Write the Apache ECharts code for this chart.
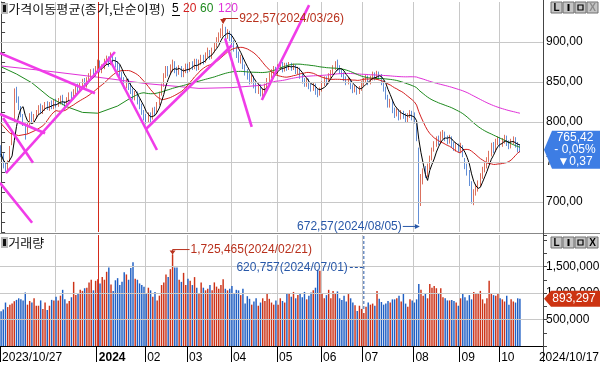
<!DOCTYPE html>
<html><head><meta charset="utf-8">
<script src="https://cdn.jsdelivr.net/npm/echarts@6/dist/echarts.min.js"></script>
<style>html,body{margin:0;padding:0;background:#fff}#c{width:600px;height:366px}</style>
</head><body><div id="c"></div>
<script>
// ---------------- DATA ----------------
const monthDays = [
 ['2023/10', [27,30,31]],
 ['2023/11', [1,2,3,6,7,8,9,10,13,14,15,16,17,20,21,22,23,24,27,28,29,30]],
 ['2023/12', [1,4,5,6,7,8,11,12,13,14,15,18,19,20,21,22,26,27,28]],
 ['2024/01', [2,3,4,5,8,9,10,11,12,15,16,17,18,19,22,23,24,25,26,29,30,31]],
 ['2024/02', [1,2,5,6,7,8,13,14,15,16,19,20,21,22,23,26,27,28,29]],
 ['2024/03', [4,5,6,7,8,11,12,13,14,15,18,19,20,21,22,25,26,27,28,29]],
 ['2024/04', [1,2,3,4,5,8,9,11,12,15,16,17,18,19,22,23,24,25,26,29,30]],
 ['2024/05', [2,3,7,8,9,10,13,14,16,17,20,21,22,23,24,27,28,29,30,31]],
 ['2024/06', [3,4,5,7,10,11,12,13,14,17,18,19,20,21,24,25,26,27,28]],
 ['2024/07', [1,2,3,4,5,8,9,10,11,12,15,16,17,18,19,22,23,24,25,26,29,30,31]],
 ['2024/08', [1,2,5,6,7,8,9,12,13,14,16,19,20,21,22,23,26,27,28,29,30]],
 ['2024/09', [2,3,4,5,6,9,10,11,12,13,19,20,23,24,25,26,27,30]],
 ['2024/10', [2,4,7,8,10,11,14,15,16,17]]
];
// [open, close, low, high]
const ohlc = [
 // 2023/10
 [768,760,756,771],[758,745,742,761],[746,742,737,750],
 // 2023/11
 [741,748,739,752],[752,768,750,770],[774,785,771,790],[806,840,800,842],[838,830,824,844],[828,818,815,832],[816,810,806,820],[806,798,795,810],[795,786,778,798],[788,795,785,800],
 [798,808,796,811],[810,803,800,813],[802,806,799,810],[806,812,804,815],[812,818,809,821],[820,814,811,823],[813,818,810,821],[817,822,814,825],[823,818,815,826],[817,822,814,825],
 [824,820,816,827],[819,825,816,828],
 // 2023/12
 [826,822,818,829],[823,826,819,830],[825,830,822,833],[831,824,821,834],[823,820,815,826],[821,828,818,831],[829,833,826,837],[835,830,826,838],[831,838,828,841],[838,843,835,847],
 [845,840,836,848],[840,846,837,849],[846,850,843,854],[852,845,841,855],[846,852,843,856],[852,858,849,861],[858,862,855,866],[863,860,855,867],[860,867,857,870],
 // 2024/01
 [868,873,862,878],[872,866,862,877],[866,868,861,872],[868,875,866,879],[874,878,871,883],[879,874,869,882],[874,880,871,887],[881,878,872,885],[878,872,868,881],[873,870,864,876],
 [869,860,857,872],[860,852,848,863],[853,846,842,856],[845,850,842,854],[851,845,840,854],[846,838,835,849],[838,832,828,842],[831,835,827,839],[836,826,822,838],[826,820,816,829],
 [820,812,809,823],[812,806,802,815],
 // 2024/02
 [806,802,798,810],[801,808,799,812],[809,804,800,812],[805,815,803,818],[815,812,808,819],[812,822,810,825],[823,835,821,838],[836,845,833,848],[846,858,844,861],[858,866,855,870],
 [867,862,857,870],[862,868,859,872],[868,872,863,878],[873,865,861,876],[866,862,857,869],[862,868,859,871],[868,860,856,870],[860,864,856,867],[864,870,861,873],
 // 2024/03
 [870,866,861,873],[866,872,863,875],[873,870,865,876],[870,876,866,879],[877,868,864,879],[868,874,865,878],[874,880,871,884],[881,876,872,884],[877,884,874,887],[884,888,881,893],
 [888,882,878,890],[882,890,879,893],[890,896,887,899],[896,902,893,906],[903,908,899,912],[908,912,905,917],[912,915,907,922.57],[915,908,904,919],[908,912,904,916],[912,905,901,914],
 // 2024/04
 [906,900,896,910],[899,892,888,902],[892,885,880,895],[885,878,874,888],[877,880,873,884],[880,870,866,882],[869,862,858,872],[862,858,853,866],[858,852,847,861],[851,856,848,860],
 [856,846,842,858],[846,840,836,849],[839,844,835,848],[844,836,832,847],[834,838,831,842],[838,845,836,848],[846,852,843,855],[852,858,850,862],[858,862,855,866],[862,866,859,870],
 [867,862,858,869],
 // 2024/05
 [862,868,859,872],[868,872,865,876],[873,866,862,875],[866,870,863,874],[871,868,864,874],[868,872,865,875],[872,868,864,874],[868,870,865,873],[870,864,860,872],[863,866,860,869],
 [866,858,854,868],[858,852,848,860],[852,848,844,855],[847,852,844,855],[852,845,841,854],[845,842,838,848],[842,846,839,849],[846,838,834,848],[838,836,831,841],[836,840,833,843],
 // 2024/06
 [841,848,838,851],[848,854,845,857],[855,850,846,857],[850,858,848,861],[858,862,855,865],[862,868,859,871],[868,872,865,876],[873,868,864,878],[868,864,860,871],[864,860,856,866],
 [860,855,851,862],[855,850,846,857],[850,852,847,856],[852,845,841,854],[845,840,836,847],[840,842,837,846],[843,838,834,845],[838,842,835,845],[842,848,839,851],
 // 2024/07
 [848,852,845,855],[852,856,849,859],[857,850,846,858],[850,855,847,858],[855,860,852,863],[860,856,852,862],[856,860,853,864],[860,858,853,863],[858,850,846,860],[850,842,838,852],
 [842,832,828,844],[832,822,818,834],[821,826,818,829],[826,815,811,828],[815,810,805,818],[810,814,807,817],[814,806,802,816],[806,812,803,815],[812,808,804,814],[808,803,799,811],
 [803,808,800,811],[808,812,805,815],[812,806,802,814],
 // 2024/08
 [808,802,798,812],[796,780,776,798],[765,692,672.57,768],[705,728,695,735],[726,738,722,742],[740,735,730,745],[735,742,731,748],[744,755,741,758],[756,765,752,768],[766,772,763,776],
 [772,778,769,782],[779,775,771,783],[776,782,773,788],[782,785,779,790],[786,780,776,788],[780,777,772,783],[776,780,773,784],[780,772,768,782],[772,768,764,775],[767,770,763,774],
 [770,766,762,773],
 // 2024/09
 [766,770,762,774],[768,760,756,771],[752,745,741,755],[745,738,733,748],[737,725,720,740],[724,708,698,726],[705,712,696,716],[713,718,708,722],[718,722,713,727],[724,732,720,736],
 [733,740,729,744],[741,745,737,750],[746,752,742,756],[752,760,749,764],[760,770,757,774],[771,765,761,775],[766,775,763,779],[775,778,771,782],
 // 2024/10
 [778,772,768,781],[772,776,769,780],[776,780,773,784],[781,774,770,783],[774,770,766,777],[770,776,767,779],[776,778,772,782],[778,772,768,781],[772,765.79,762,775],[768,765.42,762,771]
];
const volumes = [
 654000,690000,820000,
 735000,780000,800000,845000,870000,900000,880000,860000,1010000,780000,850000,820000,900000,760000,760000,860000,700000,820000,680000,760000,870000,860000,
 930000,860000,950000,1060000,880000,800000,850000,920000,1210000,960000,1000000,1060000,1040000,1090000,1100000,1200000,1250000,1050000,1230000,
 1260000,1180000,1300000,1250000,1400000,1480000,1160000,1040000,1240000,1280000,1150000,1210000,1390000,1350000,1250000,1470000,1580000,1270000,1250000,1180000,1150000,1120000,
 1000000,1100000,1050000,930000,1020000,860000,950000,1150000,1200000,1350000,1300000,1450000,1725465,1480000,1480000,1250000,1210000,1380000,1150000,
 1270000,1230000,1150000,1300000,1100000,1000000,1200000,1100000,1050000,1080000,1150000,1050000,1200000,1120000,1080000,1150000,1260000,1080000,1050000,1080000,
 1130000,1000000,1060000,1050000,960000,1080000,800000,940000,890000,780000,840000,900000,760000,820000,900000,850000,1000000,890000,820000,780000,860000,
 780000,900000,850000,820000,1000000,980000,930000,1020000,900000,960000,1000000,920000,1020000,880000,950000,1010000,1050000,1100000,1440000,1420000,
 980000,900000,960000,1060000,900000,1040000,980000,1030000,900000,870000,950000,840000,980000,900000,820000,770000,660000,760000,700000,
 620757,740000,820000,780000,800000,760000,1040000,890000,830000,780000,800000,850000,820000,880000,880000,900000,950000,840000,1000000,800000,740000,880000,860000,
 820000,880000,1170000,1060000,950000,990000,900000,1170000,1100000,1130000,1090000,1000000,1090000,920000,900000,860000,860000,870000,850000,820000,760000,
 900000,980000,920000,860000,960000,880000,1020000,980000,1000000,1040000,880000,800000,900000,1230000,1000000,960000,950000,1000000,
 900000,880000,840000,950000,780000,880000,840000,820000,900000,893297
];
// moving-average values before the full window is available
const ma20Head  = [[0,798],[4,786],[8,783],[12,785],[16,790]];
const ma60Head  = [[0,869],[7,860],[14,849],[22,831],[30,819],[37,812],[44,811],[53,820]];
const ma120Head = [[0,870],[20,864],[44,856],[66,848],[90,842],[105,843]];
// user-drawn trend lines: [startIndex, startPrice, endIndex, endPrice]
const trendLines = [
 [-0.5,886,42.7,836],[-0.5,810,20,786],[0.9,805,14.5,749],[2.2,736,51.8,887.5],[-0.5,724,14.1,674],
 [49.5,877.5,70.9,765],[65.8,791,105,896],[101.9,904.6,114,794],[118.6,827.5,140.1,946]
];
const priceGrid = [700,750,800,850,900];
const volGrid = [500000,1000000,1500000];

// ---------------- BUILD ----------------
const dates = [], monthStart = {};
monthDays.forEach(([ym, days]) => {
  days.forEach((d, k) => {
    if (k === 0) monthStart[dates.length] = ym;
    dates.push(ym + '/' + String(d).padStart(2,'0'));
  });
});
const N = dates.length;
const PAD = 10;
const cats = dates.concat(Array.from({length: PAD}, (_, k) => 'pad' + k));
const closes = ohlc.map(r => r[1]);

function rolling(n) {
  const out = [];
  for (let i = n - 1; i < N; i++) {
    let s = 0; for (let k = i - n + 1; k <= i; k++) s += closes[k];
    out.push([i, +(s / n).toFixed(2)]);
  }
  return out;
}
const ma5 = [];
for (let i = 0; i < 4; i++) { let s = 0; for (let k = 0; k <= i; k++) s += closes[k]; ma5.push([i, s / (i + 1)]); }
const ma5d = ma5.concat(rolling(5));
const ma20d = ma20Head.concat(rolling(20));
const ma60d = ma60Head.concat(rolling(60));
const ma120d = ma120Head.concat(rolling(120));

const UP = '#cc3318', DN = '#1f5fc4';
const FONT = '"Liberation Sans", Arial, sans-serif';
const KFONT = '"Noto Sans CJK KR", "Noto Sans", sans-serif';

const labelIdx = i => i === 0 || (monthStart[i] && !/2023/.test(monthStart[i]));
const gridIdx = i => monthStart[i] && i !== 0 && monthStart[i] !== '2023/11' && monthStart[i] !== '2024/01';
const janIdx = +Object.keys(monthStart).find(k => monthStart[k] === '2024/01');

const chart = echarts.init(document.getElementById('c'), null, {renderer: 'canvas'});
const GRID_L = 0, GRID_W = 543;

const option = {
  animation: false,
  backgroundColor: '#fff',
  grid: [
    {left: GRID_L, width: GRID_W, top: 2, height: 230, outerBoundsMode: 'none', containLabel: false},
    {left: GRID_L, width: GRID_W, top: 235, height: 111, outerBoundsMode: 'none', containLabel: false}
  ],
  xAxis: [
    {type: 'category', gridIndex: 0, data: cats, boundaryGap: true,
     axisLine: {show: false}, axisTick: {show: false}, axisLabel: {show: false},
     splitLine: {show: true, interval: (i) => !!gridIdx(i), lineStyle: {color: '#c8c8c8', width: 1}}},
    {type: 'category', gridIndex: 1, data: cats, boundaryGap: true,
     axisLine: {show: true, lineStyle: {color: '#000', width: 1}},
     axisTick: {show: true, interval: (i) => !!labelIdx(i), length: 16, lineStyle: {color: '#000'}},
     axisLabel: {show: true, interval: (i) => !!labelIdx(i), align: 'left', margin: 6, padding: [0,0,0,1],
       color: '#000', fontSize: 12, fontFamily: FONT,
       formatter: (v, i) => i === 0 ? v : (monthStart[i] === '2024/01' ? '{b|2024}' : monthStart[i].slice(5)),
       rich: {b: {fontWeight: 'bold', fontSize: 12, fontFamily: FONT, color: '#000'}}},
     splitLine: {show: true, interval: (i) => !!gridIdx(i), lineStyle: {color: '#c8c8c8', width: 1}}},
    {type: 'value', gridIndex: 0, min: -0.5, max: N + PAD - 0.5, show: false}
  ],
  yAxis: [
    {type: 'value', gridIndex: 0, position: 'right', min: 662.5, max: 950, interval: 12.5,
     axisLine: {show: true, lineStyle: {color: '#444'}},
     axisTick: {show: true, length: 4, lineStyle: {color: '#444'}},
     splitLine: {show: false},
     axisLabel: {show: true, margin: 3, color: '#000', fontSize: 12, fontFamily: FONT,
       showMinLabel: true, showMaxLabel: true,
       formatter: v => (Math.abs(v % 50) < 1e-6 && v >= 700 && v <= 900) ? v.toFixed(2).replace('.', ',') : ''}},
    {type: 'value', gridIndex: 1, position: 'right', min: 0, max: 111 / 26.5 * 500000, interval: 250000,
     axisLine: {show: true, lineStyle: {color: '#444'}},
     axisTick: {show: true, length: 4, lineStyle: {color: '#444'}},
     splitLine: {show: false},
     axisLabel: {show: true, margin: 3, color: '#000', fontSize: 12, fontFamily: FONT,
       formatter: v => (volGrid.indexOf(v) >= 0) ? v.toLocaleString('en-US') : ''}}
  ],
  series: [
    {type: 'line', xAxisIndex: 0, yAxisIndex: 0, data: [], z: 0, silent: true,
     markLine: {silent: true, symbol: 'none', label: {show: false}, animation: false,
       lineStyle: {color: '#c8c8c8', type: 'solid', width: 1},
       data: priceGrid.map(v => ({yAxis: v})).concat([{xAxis: dates[janIdx], lineStyle: {color: '#d42a1a', width: 1, type: 'solid'}}])}},
    {type: 'line', xAxisIndex: 1, yAxisIndex: 1, data: [], z: 0, silent: true,
     markLine: {silent: true, symbol: 'none', label: {show: false}, animation: false,
       lineStyle: {color: '#c8c8c8', type: 'solid', width: 1},
       data: volGrid.map(v => ({yAxis: v})).concat([{xAxis: dates[janIdx], lineStyle: {color: '#d42a1a', width: 1, type: 'solid'}}])}},
    {name: 'price', type: 'candlestick', xAxisIndex: 0, yAxisIndex: 0, data: ohlc, barWidth: 1.1, z: 2,
     itemStyle: {color: UP, color0: DN, borderColor: UP, borderColor0: DN, borderWidth: 0.7}},
    {type: 'line', xAxisIndex: 0, yAxisIndex: 0, data: ma120d, showSymbol: false, z: 3, lineStyle: {color: '#e030d8', width: 1}},
    {type: 'line', xAxisIndex: 0, yAxisIndex: 0, data: ma60d, showSymbol: false, z: 3, lineStyle: {color: '#1e8a1e', width: 1}},
    {type: 'line', xAxisIndex: 0, yAxisIndex: 0, data: ma20d, showSymbol: false, z: 3, lineStyle: {color: '#d42020', width: 1}},
    {type: 'line', xAxisIndex: 0, yAxisIndex: 0, data: ma5d, showSymbol: false, z: 4, lineStyle: {color: '#000', width: 1}},
    {name: 'vol', type: 'bar', xAxisIndex: 1, yAxisIndex: 1, barWidth: '66%', z: 2,
     data: volumes.map((v, i) => ({value: v, itemStyle: {color: ohlc[i][1] >= ohlc[i][0] ? UP : DN}}))}
  ].concat(trendLines.map(t => ({
    type: 'line', xAxisIndex: 2, yAxisIndex: 0, data: [[t[0], t[1]], [t[2], t[3]]], showSymbol: false, z: 5,
    clip: true, lineStyle: {color: '#f03ce8', width: 2.6}
  })))
};
chart.setOption(option);

// ---------------- OVERLAYS ----------------
const ctx = document.createElement('canvas').getContext('2d');
function fitScale(text, font, target) { ctx.font = font; const w = ctx.measureText(text).width; return w > 0 ? target / w : 1; }
const px = (i, v) => chart.convertToPixel({xAxisIndex: 0, yAxisIndex: 0}, [i, v]);
const pxv = (i, v) => chart.convertToPixel({xAxisIndex: 1, yAxisIndex: 1}, [i, v]);
const g = [];
const fmt2 = v => v.toFixed(2).replace('.', ',');
const RED_T = '#b8301c', BLUE_T = '#2858a8';

function icon(y) {
  g.push({type: 'rect', shape: {x: 1, y: y, width: 7, height: 11}, style: {fill: '#b8b8b8'}, z: 100});
  g.push({type: 'rect', shape: {x: 3, y: y + 2, width: 3, height: 7}, style: {fill: '#111'}, z: 101});
}
icon(3); icon(237);
const t1 = '가격이동평균(종가,단순이평)';
const f1 = '12px ' + KFONT;
g.push({type: 'text', x: 9, y: 9, scaleX: fitScale(t1, f1, 157), originX: 9, originY: 9, z: 100,
  style: {text: t1, font: f1, fill: '#111', verticalAlign: 'middle'}});
[['5', 172, '#000'], ['20', 183, '#d42020'], ['60', 200, '#1e8a1e'], ['120', 218, '#e030d8']].forEach(([t, x, c]) => {
  g.push({type: 'text', x: x, y: 9, z: 100, style: {text: t, font: '12px ' + FONT, fill: c, verticalAlign: 'middle'}});
});
g.push({type: 'line', shape: {x1: 172, y1: 15.5, x2: 180, y2: 15.5}, style: {stroke: '#000', lineWidth: 1}, z: 100});
const t2 = '거래량';
g.push({type: 'text', x: 9, y: 243, scaleX: fitScale(t2, f1, 36), originX: 9, originY: 243, z: 100,
  style: {text: t2, font: f1, fill: '#111', verticalAlign: 'middle'}});

// panel buttons
function buttons(y, xDim) {
  ['L', 'I', '□', 'X'].forEach((b, k) => {
    const x = 551 + k * 12;
    g.push({type: 'rect', shape: {x: x, y: y, width: 11, height: 11}, style: {fill: '#c4c4c4', stroke: '#707070', lineWidth: 1}, z: 100});
    if (b === '□') {
      g.push({type: 'rect', shape: {x: x + 3, y: y + 3, width: 5, height: 5}, style: {fill: 'none', stroke: '#000', lineWidth: 1.2}, z: 101});
    } else if (b === 'I') {
      g.push({type: 'rect', shape: {x: x + 4.5, y: y + 2, width: 2, height: 7}, style: {fill: '#000'}, z: 101});
    } else {
      g.push({type: 'text', x: x + 5.5, y: y + 6, z: 101, style: {text: b, font: 'bold 10px ' + FONT, fill: (b === 'X' && xDim) ? '#8a8a8a' : '#000', align: 'center', verticalAlign: 'middle'}});
    }
  });
}
buttons(2, true); buttons(237, false);

// separators / axis continuation
g.push({type: 'line', shape: {x1: 0, y1: 233.5, x2: 600, y2: 233.5}, style: {stroke: '#888', lineWidth: 1}, z: 50});
g.push({type: 'line', shape: {x1: 543.5, y1: 0, x2: 543.5, y2: 362}, style: {stroke: '#444', lineWidth: 1}, z: 50});
g.push({type: 'line', shape: {x1: 0, y1: 346.5, x2: 543, y2: 346.5}, style: {stroke: '#000', lineWidth: 1}, z: 50});

// max / min annotations (price)
let hi = 0, lo = 0;
ohlc.forEach((r, i) => { if (r[3] > ohlc[hi][3]) hi = i; if (r[2] < ohlc[lo][2]) lo = i; });
const ph = px(hi, ohlc[hi][3]);
g.push({type: 'polyline', shape: {points: [[ph[0] + 15, 18.5], [ph[0], 18.5], [ph[0], ph[1] - 1]]}, style: {stroke: RED_T, lineWidth: 1, fill: null}, z: 60});
g.push({type: 'polygon', shape: {points: [[ph[0] - 3, ph[1] - 5], [ph[0] + 3, ph[1] - 5], [ph[0], ph[1]]]}, style: {fill: RED_T}, z: 60});
g.push({type: 'text', x: ph[0] + 16, y: 18.5, z: 60, style: {text: fmt2(ohlc[hi][3]) + '(' + dates[hi] + ')', font: '12px ' + FONT, fill: RED_T, verticalAlign: 'middle'}});
const pl = px(lo, ohlc[lo][2]);
const ly = pl[1] + 2.5;
g.push({type: 'line', shape: {x1: pl[0] - 16, y1: ly, x2: pl[0], y2: ly}, style: {stroke: BLUE_T, lineWidth: 1}, z: 60});
g.push({type: 'polygon', shape: {points: [[pl[0] - 4, ly - 2.5], [pl[0] - 4, ly + 2.5], [pl[0] + 1, ly]]}, style: {fill: BLUE_T}, z: 60});
g.push({type: 'text', x: pl[0] - 17, y: ly, z: 60, style: {text: fmt2(ohlc[lo][2]) + '(' + dates[lo] + ')', font: '12px ' + FONT, fill: BLUE_T, align: 'right', verticalAlign: 'middle'}});

// volume annotations
let vmax = 0, vmin = 0;
volumes.forEach((v, i) => { if (v > volumes[vmax]) vmax = i; if (v < volumes[vmin]) vmin = i; });
const vh = pxv(vmax, volumes[vmax]);
const vy = vh[1] - 5;
g.push({type: 'polyline', shape: {points: [[vh[0] + 17, vy], [vh[0], vy], [vh[0], vh[1]]]}, style: {stroke: RED_T, lineWidth: 1, fill: null}, z: 60});
g.push({type: 'polygon', shape: {points: [[vh[0] - 3, vh[1] - 4], [vh[0] + 3, vh[1] - 4], [vh[0], vh[1]]]}, style: {fill: RED_T}, z: 60});
g.push({type: 'text', x: vh[0] + 18, y: vy, z: 60, style: {text: volumes[vmax].toLocaleString('en-US') + '(' + dates[vmax] + ')', font: '12px ' + FONT, fill: RED_T, verticalAlign: 'middle'}});
const vl = pxv(vmin, volumes[vmin]);
g.push({type: 'line', shape: {x1: vl[0], y1: 236, x2: vl[0], y2: vl[1] - 4}, style: {stroke: BLUE_T, lineWidth: 1, lineDash: [3, 2]}, z: 60});
g.push({type: 'line', shape: {x1: vl[0] - 14, y1: 267.5, x2: vl[0], y2: 267.5}, style: {stroke: BLUE_T, lineWidth: 1, lineDash: [3, 2]}, z: 60});
g.push({type: 'text', x: vl[0] - 16, y: 267.5, z: 60, style: {text: volumes[vmin].toLocaleString('en-US') + '(' + dates[vmin] + ')', font: '12px ' + FONT, fill: BLUE_T, align: 'right', verticalAlign: 'middle'}});

// last-value tags
const lastC = closes[N - 1], prevC = closes[N - 2];
const diff = lastC - prevC, pct = diff / prevC * 100;
const pt = px(N - 1, lastC)[1];
g.push({type: 'polygon', shape: {points: [[544, pt], [552, pt - 19], [600, pt - 19], [600, pt + 19], [552, pt + 19]]}, style: {fill: '#3d7de4'}, z: 80});
[[fmt2(lastC), -12], [(pct < 0 ? '- ' : '+ ') + Math.abs(pct).toFixed(2).replace('.', ',') + '%', 0], [(diff < 0 ? '▼' : '▲') + fmt2(Math.abs(diff)), 12]].forEach(([t, dy]) => {
  g.push({type: 'text', x: 575, y: pt + dy, z: 81, style: {text: t, font: '12px ' + FONT, fill: '#fff', align: 'center', verticalAlign: 'middle'}});
});
const vt = pxv(N - 1, volumes[N - 1])[1];
g.push({type: 'polygon', shape: {points: [[544, vt], [551, vt - 8], [600, vt - 8], [600, vt + 8], [551, vt + 8]]}, style: {fill: '#cc3311'}, z: 80});
g.push({type: 'text', x: 574, y: vt, z: 81, style: {text: volumes[N - 1].toLocaleString('en-US'), font: '12px ' + FONT, fill: '#fff', align: 'center', verticalAlign: 'middle'}});

// last date label
g.push({type: 'text', x: 599, y: 358, z: 60, style: {text: dates[N - 1], font: '12px ' + FONT, fill: '#000', align: 'right', verticalAlign: 'middle'}});

chart.setOption({graphic: {elements: g}});
</script>
</body></html>
